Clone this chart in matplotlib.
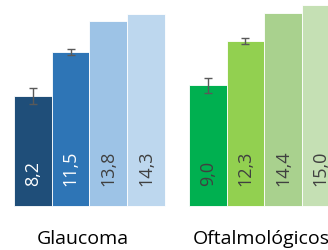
import matplotlib.pyplot as plt

# ─── data ─────────────────────────────────────────────
groups = ['Glaucoma', 'Oftalmológicos']
glaucoma_vals = [8.2, 11.5, 13.8, 14.3]
glaucoma_err = [0.6, 0.2, 0, 0]
oftal_vals = [9.0, 12.3, 14.4, 15.0]
oftal_err = [0.55, 0.2, 0, 0]
labels_glaucoma = ['8,2', '11,5', '13,8', '14,3']
labels_oftal = ['9,0', '12,3', '14,4', '15,0']

blues = ['#1F4E79', '#2E75B6', '#9DC3E6', '#BDD7EE']
greens = ['#00B050', '#92D050', '#A9D18E', '#C5E0B4']
txt_blue = ['white', 'white', '#404040', '#404040']
txt_green = ['#404040'] * 4

plt.rcParams['font.family'] = ['Open Sans', 'DejaVu Sans']

fig = plt.figure(figsize=(3.28, 2.5), dpi=100)
ax = fig.add_axes([0, 0, 1, 1])

x1 = [0, 1, 2, 3]
x2 = [4.64 + i for i in range(4)]

for xs, vals, errs, cols, labs, tcols in [
        (x1, glaucoma_vals, glaucoma_err, blues, labels_glaucoma, txt_blue),
        (x2, oftal_vals, oftal_err, greens, labels_oftal, txt_green)]:
    ax.bar(xs, vals, width=1.0, color=cols, edgecolor='white', linewidth=0.6)
    for x, v, e in zip(xs, vals, errs):
        if e > 0:
            ax.errorbar(x, v, yerr=e, color='#595959', capsize=3, elinewidth=1, capthick=1)
    for x, lab, c in zip(xs, labs, tcols):
        ax.text(x, 1.5, lab, rotation=90, ha='center', va='bottom', color=c, fontsize=13)

# category labels (the second one runs past the right edge, as in the original crop)
ax.text(1.33, -2.45, groups[0], ha='center', va='center', fontsize=14, color='black')
ax.text(4.25, -2.45, groups[1], ha='left', va='center', fontsize=14, color='black')

ax.set_xlim(-0.871, 7.83)
ax.set_ylim(-3.28, 15.37)
ax.axis('off')

fig.savefig('out.png', dpi=100)
